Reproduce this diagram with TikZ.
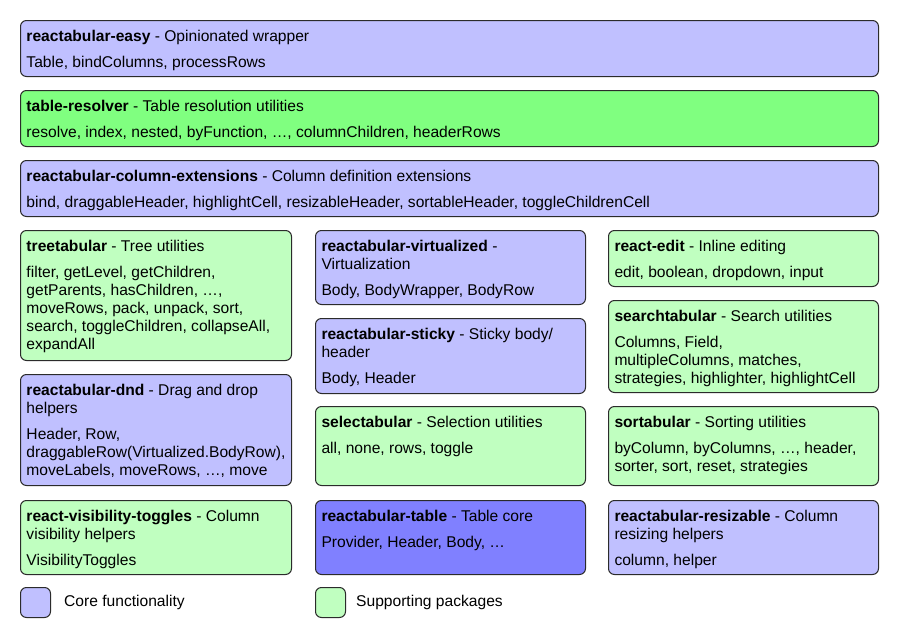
\documentclass[tikz,border=0pt]{standalone}
\usepackage{fontspec}
\setmainfont{Liberation Sans}
\usetikzlibrary{positioning}
\definecolor{ink}{HTML}{000000}
\definecolor{rim}{HTML}{2B2B2B}
\definecolor{core}{HTML}{C0C0FF}
\definecolor{corehi}{HTML}{8080FF}
\definecolor{aid}{HTML}{C0FFC0}
\definecolor{aidhi}{HTML}{80FF80}
\tikzset{
  x=1pt, y=-1pt,
  every node/.style = {text=ink, font=\fontsize{15.6}{18}\selectfont},
  pkbase/.style    = {draw=rim, line width=1pt, rounded corners=6pt, anchor=north west,
                      inner xsep=6pt, inner ysep=8pt, align=left},
  pkcore/.style    = {pkbase, fill=core},
  pkcorehi/.style  = {pkbase, fill=corehi},
  pkaid/.style     = {pkbase, fill=aid},
  pkaidhi/.style   = {pkbase, fill=aidhi},
  pkkey/.style     = {draw=rim, line width=1pt, rounded corners=6pt, anchor=north west,
                      minimum size=30pt, inner sep=0pt},
  pkkeytext/.style = {anchor=west, inner sep=0pt},
}
\newcommand{\pkcell}[3]{\parbox[c][#2][t]{#1}{\raggedright\strut#3}}
\newcommand{\pkname}[2]{\textbf{#1} - #2\\[8pt]}

\begin{document}
\begin{tikzpicture}
\useasboundingbox (0,0) rectangle (898,637);

% full-width rows
\node[pkcore] (easy) at (20,20)
  {\pkcell{846pt}{40pt}{\pkname{reactabular-easy}{Opinionated wrapper}Table, bindColumns, processRows}};
\node[pkaidhi] (resolver) at (20,90)
  {\pkcell{846pt}{40pt}{\pkname{table-resolver}{Table resolution utilities}resolve, index, nested, byFunction, …, columnChildren, headerRows}};
\node[pkcore] (colext) at (20,160)
  {\pkcell{846pt}{40pt}{\pkname{reactabular-column-extensions}{Column definition extensions}bind, draggableHeader, highlightCell, resizableHeader, sortableHeader, toggleChildrenCell}};

% left column
\node[pkaid] (tree) at (20,230)
  {\pkcell{259pt}{114pt}{\pkname{treetabular}{Tree utilities}filter, getLevel, getChildren,\\getParents, hasChildren, …,\\moveRows, pack, unpack, sort,\\search, toggleChildren, collapseAll,\\expandAll}};
\node[pkcore] (dnd) at (20,374)
  {\pkcell{259pt}{95pt}{\pkname{reactabular-dnd}{Drag and drop\\helpers}Header, Row,\\draggableRow(Virtualized.BodyRow),\\moveLabels, moveRows, …, move}};
\node[pkaid] (vis) at (20,500)
  {\pkcell{259pt}{58pt}{\pkname{react-visibility-toggles}{Column\\visibility helpers}VisibilityToggles}};

% middle column
\node[pkcore] (virt) at (315,230)
  {\pkcell{258pt}{58pt}{\pkname{reactabular-virtualized}{\\Virtualization}Body, BodyWrapper, BodyRow}};
\node[pkcore] (sticky) at (315,318)
  {\pkcell{258pt}{59pt}{\pkname{reactabular-sticky}{Sticky body/\\header}Body, Header}};
\node[pkaid] (select) at (315,406)
  {\pkcell{258pt}{63pt}{\pkname{selectabular}{Selection utilities}all, none, rows, toggle}};
\node[pkcorehi] (table) at (315,500)
  {\pkcell{258pt}{58pt}{\pkname{reactabular-table}{Table core}Provider, Header, Body, …}};

% right column
\node[pkaid] (edit) at (608,230)
  {\pkcell{258pt}{40pt}{\pkname{react-edit}{Inline editing}edit, boolean, dropdown, input}};
\node[pkaid] (search) at (608,300)
  {\pkcell{258pt}{76pt}{\pkname{searchtabular}{Search utilities}Columns, Field,\\multipleColumns, matches,\\strategies, highlighter, highlightCell}};
\node[pkaid] (sort) at (608,406)
  {\pkcell{258pt}{63pt}{\pkname{sortabular}{Sorting utilities}byColumn, byColumns, …, header,\\sorter, sort, reset, strategies}};
\node[pkcore] (resize) at (608,500)
  {\pkcell{258pt}{58pt}{\pkname{reactabular-resizable}{Column\\resizing helpers}column, helper}};

% legend
\node[pkkey, fill=core] (keycore) at (20,587) {};
\node[pkkeytext, right=13pt of keycore] (keycoretext) {Core functionality};
\node[pkkey, fill=aid] (keyaid) at (315,587) {};
\node[pkkeytext, right=10pt of keyaid] (keyaidtext) {Supporting packages};
\end{tikzpicture}
\end{document}
